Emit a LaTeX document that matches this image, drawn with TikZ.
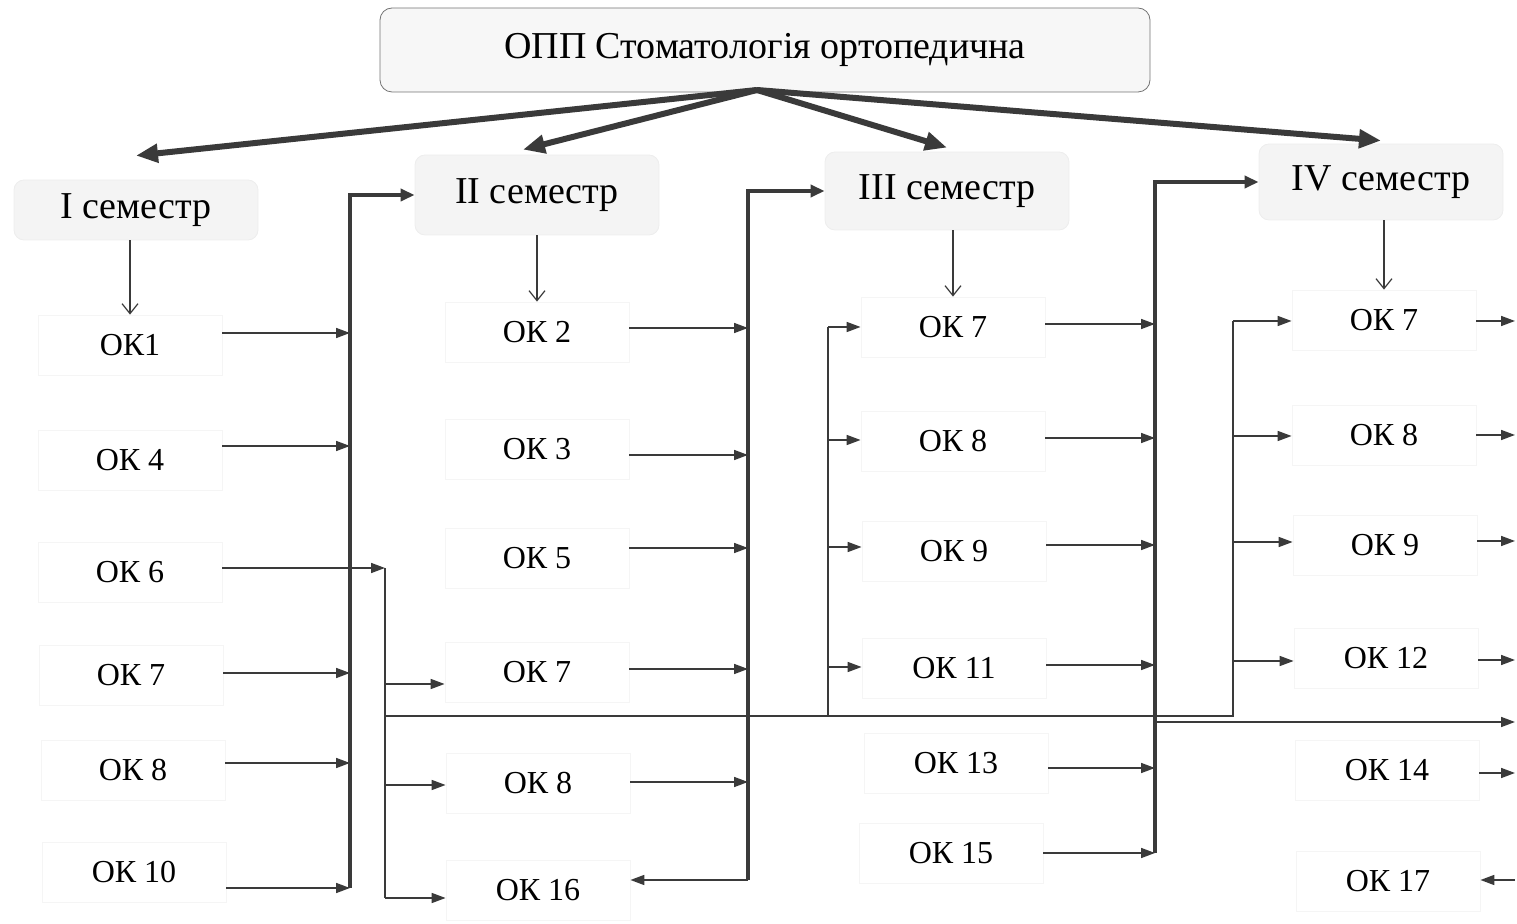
\documentclass[tikz,border=0pt]{standalone}
\usepackage{fontspec}
\setmainfont{Liberation Serif}
\usetikzlibrary{arrows.meta,positioning}
\definecolor{ink}{HTML}{3A3A3A}
\definecolor{paper}{HTML}{F4F4F4}

\begin{document}
\begin{tikzpicture}[
  x=0.5pt, y=-0.5pt,
  prog/.style={draw=black!55, fill=black!3, rounded corners=6pt, minimum width=385pt, minimum height=42pt, font=\fontsize{19}{22}\selectfont},
  sem/.style={draw=black!7, fill=paper, rounded corners=5pt, minimum width=122pt, font=\fontsize{19}{22}\selectfont},
  ok/.style={draw=black!4, minimum width=92pt, minimum height=30pt, inner sep=0pt, font=\fontsize{16}{18}\selectfont},
  line/.style={ink, line width=0.8pt},
  arr/.style={-{Triangle[length=7pt,width=5pt]}, ink, line width=0.8pt},
  bus/.style={-{Triangle[length=7pt,width=6pt]}, ink, line width=2pt},
  big/.style={-{Triangle[length=11pt,width=9pt]}, ink, line width=3pt},
  down/.style={-{Straight Barb[length=5pt,width=8pt]}, ink, line width=0.6pt}
]
\useasboundingbox (0,0) rectangle (1517,924);

% programme and semesters
\node[prog] (opp) at (765,50) {ОПП Стоматологія ортопедична};
\node[sem, minimum height=30pt] (s1) at (136,210) {I семестр};
\node[sem, minimum height=40pt] (s2) at (537,195) {II семестр};
\node[sem, minimum height=39pt] (s3) at (947,191) {III семестр};
\node[sem, minimum height=38pt] (s4) at (1381,182) {IV семестр};

% components, column by column
\node[ok] (o11) at (130,345) {ОК1};
\node[ok] (o12) at (130,460) {ОК 4};
\node[ok] (o13) at (130,572) {ОК 6};
\node[ok] (o14) at (131,675) {ОК 7};
\node[ok] (o15) at (133,770) {ОК 8};
\node[ok] (o16) at (134,872) {ОК 10};

\node[ok] (o21) at (537,332) {ОК 2};
\node[ok] (o22) at (537,449) {ОК 3};
\node[ok] (o23) at (537,558) {ОК 5};
\node[ok] (o24) at (537,672) {ОК 7};
\node[ok] (o25) at (538,783) {ОК 8};
\node[ok] (o26) at (538,890) {ОК 16};

\node[ok] (o31) at (953,327) {ОК 7};
\node[ok] (o32) at (953,441) {ОК 8};
\node[ok] (o33) at (954,551) {ОК 9};
\node[ok] (o34) at (954,668) {ОК 11};
\node[ok] (o35) at (956,763) {ОК 13};
\node[ok] (o36) at (951,853) {ОК 15};

\node[ok] (o41) at (1384,320) {ОК 7};
\node[ok] (o42) at (1384,435) {ОК 8};
\node[ok] (o43) at (1385,545) {ОК 9};
\node[ok] (o44) at (1386,658) {ОК 12};
\node[ok] (o45) at (1387,770) {ОК 14};
\node[ok] (o46) at (1388,881) {ОК 17};

% bus lines
\coordinate (hub) at (757,90);
\coordinate (c1) at (350,0);
\coordinate (c2) at (385,0);
\coordinate (c3) at (748,0);
\coordinate (c4) at (828,0);
\coordinate (c5) at (1155,0);
\coordinate (c6) at (1233,0);
\coordinate (rim) at (1515,0);

\draw[big] (hub) -- ([yshift=12pt]s1.north);
\draw[big] (hub) -- ([xshift=-7pt,yshift=2.5pt]s2.north);
\draw[big] (hub) -- ([yshift=2pt]s3.north);
\draw[big] (hub) -- ([yshift=1.5pt]s4.north);

\draw[down] (o11.north |- s1.south) -- (o11.north);
\draw[down] (o21.north |- s2.south) -- (o21.north);
\draw[down] (o31.north |- s3.south) -- (o31.north);
\draw[down] (o41.north |- s4.south) -- (o41.north);

% I -> II
\draw[arr] (o11.east |- 0,333) -- (c1 |- 0,333);
\draw[arr] (o12.east |- 0,446) -- (c1 |- 0,446);
\draw[arr] (o14.east |- 0,673) -- (c1 |- 0,673);
\draw[arr] (o15.east |- 0,763) -- (c1 |- 0,763);
\draw[arr] (o16.east |- 0,888) -- (c1 |- 0,888);
\draw[bus] (c1 |- 0,888) -- (c1 |- s2.west) -- (s2.west);

\draw[arr] (o13.east |- 0,568) -- (c2 |- 0,568);
\draw[line] (c2 |- 0,568) -- (c2 |- 0,898);
\draw[arr] (c2 |- 0,684) -- (o24.west |- 0,684);
\draw[arr] (c2 |- 0,785) -- (o25.west |- 0,785);
\draw[arr] (c2 |- 0,898) -- (o26.west |- 0,898);
\draw[line] (c2 |- 0,716) -- (c6 |- 0,716) -- (c6 |- 0,321);
\draw[line] (c4 |- 0,716) -- (c4 |- 0,327);

% II -> III
\draw[arr] (o21.east |- 0,328) -- (c3 |- 0,328);
\draw[arr] (o22.east |- 0,455) -- (c3 |- 0,455);
\draw[arr] (o23.east |- 0,548) -- (c3 |- 0,548);
\draw[arr] (o24.east |- 0,669) -- (c3 |- 0,669);
\draw[arr] (o25.east |- 0,782) -- (c3 |- 0,782);
\draw[bus] (c3 |- 0,880) -- (c3 |- s3.west) -- (s3.west);
\draw[arr] (c3 |- 0,880) -- (o26.east |- 0,880);

\draw[arr] (c4 |- 0,327) -- (o31.west |- 0,327);
\draw[arr] (c4 |- 0,440) -- (o32.west |- 0,440);
\draw[arr] (c4 |- 0,547) -- (o33.west |- 0,547);
\draw[arr] (c4 |- 0,667) -- (o34.west |- 0,667);

% III -> IV
\draw[arr] (o31.east |- 0,324) -- (c5 |- 0,324);
\draw[arr] (o32.east |- 0,438) -- (c5 |- 0,438);
\draw[arr] (o33.east |- 0,545) -- (c5 |- 0,545);
\draw[arr] (o34.east |- 0,665) -- (c5 |- 0,665);
\draw[arr] (o35.east |- 0,768) -- (c5 |- 0,768);
\draw[arr] (o36.east |- 0,853) -- (c5 |- 0,853);
\draw[bus] (c5 |- 0,853) -- (c5 |- s4.west) -- (s4.west);
\draw[arr] (c5 |- 0,722) -- (rim |- 0,722);

\draw[arr] (c6 |- 0,321) -- (o41.west |- 0,321);
\draw[arr] (c6 |- 0,436) -- (o42.west |- 0,436);
\draw[arr] (c6 |- 0,542) -- (o43.west |- 0,542);
\draw[arr] (c6 |- 0,661) -- (o44.west |- 0,661);

% IV onwards
\draw[arr] (o41.east |- 0,321) -- (rim |- 0,321);
\draw[arr] (o42.east |- 0,435) -- (rim |- 0,435);
\draw[arr] (o43.east |- 0,541) -- (rim |- 0,541);
\draw[arr] (o44.east |- 0,660) -- (rim |- 0,660);
\draw[arr] (o45.east |- 0,773) -- (rim |- 0,773);
\draw[arr] (rim |- 0,880) -- (o46.east |- 0,880);
\end{tikzpicture}
\end{document}
